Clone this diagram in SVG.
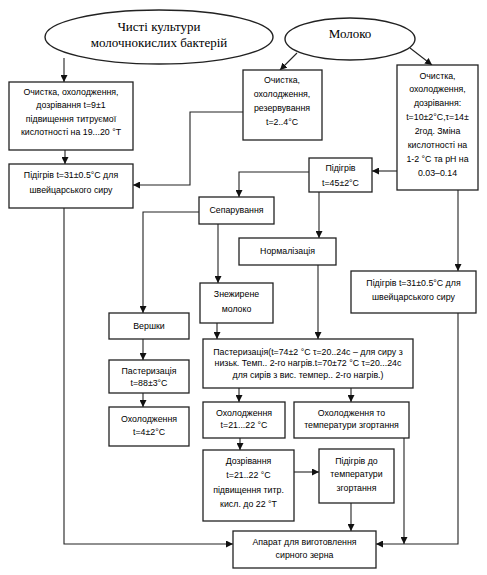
<svg xmlns="http://www.w3.org/2000/svg" width="487" height="575" viewBox="0 0 487 575">
<defs>
<marker id="ah" viewBox="0 0 10 10" refX="10" refY="5" markerWidth="7" markerHeight="7" markerUnits="userSpaceOnUse" orient="auto">
<path d="M0,0 L10,5 L0,10 z" fill="#111"/>
</marker>
<style>
.box{fill:#fff;stroke:#222;stroke-width:1.3}
.ell{fill:#fff;stroke:#222;stroke-width:1.4}
.t{font-family:"Liberation Sans",Arial,sans-serif;font-size:8.8px;fill:#000;text-anchor:middle}
.s{font-family:"Liberation Serif","Times New Roman",serif;font-size:13px;fill:#000;text-anchor:middle}
.c{fill:none;stroke:#222;stroke-width:1.1;marker-end:url(#ah)}
</style>
</defs>
<rect width="487" height="575" fill="#fff"/>
<g id="connectors">
<path class="c" d="M64,58 L64,82"/>
<path class="c" d="M297,53 L280,70"/>
<path class="c" d="M410,48 L432,65"/>
<path class="c" d="M65,150 L65,164"/>
<path class="c" d="M243,112 L190,112 L190,185 L133,185"/>
<path class="c" d="M397,171 L372,171"/>
<path class="c" d="M309,172 L239,172 L239,197"/>
<path class="c" d="M319,192 L319,238"/>
<path class="c" d="M218,224 L218,283"/>
<path class="c" d="M199,212 L143,212 L143,313"/>
<path class="c" d="M143,339 L143,360"/>
<path class="c" d="M143,393 L143,407"/>
<path class="c" d="M217,323 L217,339"/>
<path class="c" d="M318,265 L318,339"/>
<path class="c" d="M239,388 L239,402"/>
<path class="c" d="M351,388 L351,402"/>
<path class="c" d="M240,438 L240,450"/>
<path class="c" d="M294,472 L319,472"/>
<path class="c" d="M351,503 L351,531"/>
<path class="c" d="M458,190 L458,271"/>
<path class="c" d="M458,313 L458,544 L376,544"/>
<path class="c" d="M404,438 L404,544"/>
<path class="c" d="M64,208 L64,544 L233,544"/>
</g>
<g id="cultures">
<ellipse class="ell" cx="159" cy="37" rx="114" ry="27"/>
<text class="s" x="159" y="31">Чисті культури</text>
<text class="s" x="159" y="47">молочнокислих бактерій</text>
</g>
<g id="milk">
<ellipse class="ell" cx="350" cy="39" rx="65" ry="21"/>
<text class="s" x="350" y="38">Молоко</text>
</g>
<g id="boxA">
<rect class="box" x="9" y="82" width="124" height="68"/>
<text class="t" x="71" y="95">Очистка, охолодження,</text>
<text class="t" x="71" y="108">дозрівання t=9±1</text>
<text class="t" x="71" y="122">підвищення титруємої</text>
<text class="t" x="71" y="135">кислотності на 19...20 °Т</text>
</g>
<g id="boxB">
<rect class="box" x="9" y="164" width="124" height="44"/>
<text class="t" x="71" y="178">Підігрів t=31±0.5°С для</text>
<text class="t" x="71" y="193">швейцарського сиру</text>
</g>
<g id="boxC">
<rect class="box" x="243" y="70" width="79" height="70"/>
<text class="t" x="282" y="83">Очистка,</text>
<text class="t" x="282" y="97">охолодження,</text>
<text class="t" x="282" y="111">резервування</text>
<text class="t" x="282" y="125">t=2..4°С</text>
</g>
<g id="boxD">
<rect class="box" x="397" y="65" width="81" height="125"/>
<text class="t" x="437.5" y="79">Очистка,</text>
<text class="t" x="437.5" y="92">охолодження,</text>
<text class="t" x="437.5" y="106">дозрівання:</text>
<text class="t" x="437.5" y="120">t=10±2°С,τ=14±</text>
<text class="t" x="437.5" y="134">2год. Зміна</text>
<text class="t" x="437.5" y="148">кислотності на</text>
<text class="t" x="437.5" y="162">1-2 °С та рН на</text>
<text class="t" x="437.5" y="176">0.03–0.14</text>
</g>
<g id="boxE">
<rect class="box" x="309" y="158" width="63" height="34"/>
<text class="t" x="340.5" y="171">Підігрів</text>
<text class="t" x="340.5" y="186">t=45±2°С</text>
</g>
<g id="separation">
<rect class="box" x="199" y="197" width="75" height="27"/>
<text class="t" x="236.5" y="213">Сепарування</text>
</g>
<g id="normalization">
<rect class="box" x="239" y="238" width="97" height="27"/>
<text class="t" x="287.5" y="254">Нормалізація</text>
</g>
<g id="skim">
<rect class="box" x="200" y="283" width="73" height="40"/>
<text class="t" x="236.5" y="297">Знежирене</text>
<text class="t" x="236.5" y="312">молоко</text>
</g>
<g id="heatRight">
<rect class="box" x="351" y="271" width="125" height="42"/>
<text class="t" x="413.5" y="286">Підігрів t=31±0.5°С для</text>
<text class="t" x="413.5" y="300">швейцарського сиру</text>
</g>
<g id="cream">
<rect class="box" x="109" y="313" width="80" height="26"/>
<text class="t" x="149" y="329">Вершки</text>
</g>
<g id="pastCream">
<rect class="box" x="109" y="360" width="80" height="33"/>
<text class="t" x="149" y="374">Пастеризація</text>
<text class="t" x="149" y="386">t=88±3°С</text>
</g>
<g id="coolCream">
<rect class="box" x="109" y="407" width="80" height="39"/>
<text class="t" x="149" y="422">Охолодження</text>
<text class="t" x="149" y="435">t=4±2°С</text>
</g>
<g id="pastMain">
<rect class="box" x="203" y="339" width="210" height="49"/>
<text class="t" x="308" y="355">Пастеризація(t=74±2 °С τ=20..24с – для сиру з</text>
<text class="t" x="308" y="366">низьк. Темп.. 2-го нагрів.t=70±72 °С τ=20...24с</text>
<text class="t" x="308" y="378">для сирів з вис. темпер.. 2-го нагрів.)</text>
</g>
<g id="cool21">
<rect class="box" x="203" y="402" width="82" height="36"/>
<text class="t" x="244" y="416">Охолодження</text>
<text class="t" x="244" y="428">t=21...22 °С</text>
</g>
<g id="coolCoag">
<rect class="box" x="294" y="402" width="115" height="36"/>
<text class="t" x="351.5" y="416">Охолодження то</text>
<text class="t" x="351.5" y="428">температури згортання</text>
</g>
<g id="ripening">
<rect class="box" x="203" y="450" width="91" height="71"/>
<text class="t" x="248.5" y="464">Дозрівання</text>
<text class="t" x="248.5" y="478">t=21..22 °С</text>
<text class="t" x="248.5" y="493">підвищення титр.</text>
<text class="t" x="248.5" y="507">кисл. до 22 °Т</text>
</g>
<g id="heatCoag">
<rect class="box" x="319" y="449" width="75" height="54"/>
<text class="t" x="356.5" y="464">Підігрів до</text>
<text class="t" x="356.5" y="477">температури</text>
<text class="t" x="356.5" y="491">згортання</text>
</g>
<g id="apparatus">
<rect class="box" x="233" y="531" width="143" height="37"/>
<text class="t" x="304.5" y="545">Апарат для виготовлення</text>
<text class="t" x="304.5" y="558">сирного зерна</text>
</g>
</svg>
